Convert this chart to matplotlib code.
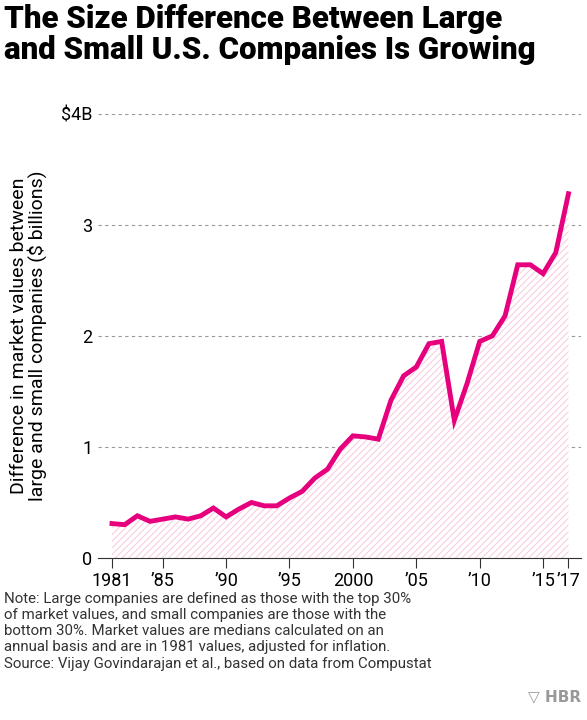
import matplotlib
matplotlib.use("Agg")
import matplotlib.pyplot as plt

years = list(range(1981, 2018))
values = [0.31,0.30,0.38,0.33,0.35,0.37,0.35,0.38,0.45,0.37,0.44,0.50,0.47,0.47,0.54,0.60,
          0.72,0.80,0.98,1.10,1.09,1.07,1.42,1.64,1.72,1.93,1.95,1.24,1.57,1.95,2.00,2.18,
          2.64,2.64,2.56,2.75,3.28]
xticks = [1981,1985,1990,1995,2000,2005,2010,2015,2017]
xlabels = ["1981","’85","’90","’95","2000","’05","’10","’15","’17"]
yticks = [0,1,2,3,4]
ylabels = ["0","1","2","3","$4B"]

plt.rcParams['font.family'] = ['Roboto', 'DejaVu Sans']
pink = '#e6007e'
fig = plt.figure(figsize=(5.87,7.2), dpi=100)
ax = fig.add_axes([0.167,0.225,0.823,0.617])
plt.rcParams['hatch.color'] = '#f6c6dd'
plt.rcParams['hatch.linewidth'] = 0.8
ax.fill_between(years, values, 0, facecolor='white', hatch='/////', edgecolor='#f7cde0', linewidth=0)
ax.plot(years, values, color=pink, lw=3.5, solid_joinstyle='miter')
ax.set_xlim(1979.9, 2018.0)
ax.set_ylim(0, 4)
ax.set_xticks(xticks)
ax.set_xticklabels(xlabels, fontsize=13)
ax.set_yticks(yticks)
ax.set_yticklabels(ylabels, fontsize=13)
for y in yticks[1:]:
    ax.axhline(y, color='#999999', lw=0.8, ls=(0,(3,3)), zorder=0)
for s in ['top','right','left']:
    ax.spines[s].set_visible(False)
ax.spines['bottom'].set_color('#333333')
ax.tick_params(axis='y', length=0, pad=4)
ax.tick_params(axis='x', length=7, color='#333333', pad=3)
ax.set_ylabel("Difference in market values between\nlarge and small companies ($ billions)", fontsize=14, linespacing=1.0)
ax.yaxis.set_label_coords(-0.105, 0.5)

fig.text(0.007, 0.995, "The Size Difference Between Large\nand Small U.S. Companies Is Growing",
         fontsize=22.5, fontweight='heavy', va='top', ha='left', linespacing=1.05)
fig.text(0.007, 0.178, "Note: Large companies are defined as those with the top 30%\nof market values, and small companies are those with the\nbottom 30%. Market values are medians calculated on an\nannual basis and are in 1981 values, adjusted for inflation.\nSource: Vijay Govindarajan et al., based on data from Compustat",
         fontsize=10.8, va='top', ha='left', color='#333333', linespacing=1.2)
fig.text(0.99, 0.022, "▽ HBR", fontsize=11, fontweight='bold', color='#999999', ha='right', va='bottom',
         family=['DejaVu Sans'])
fig.savefig("out.png", dpi=100)
